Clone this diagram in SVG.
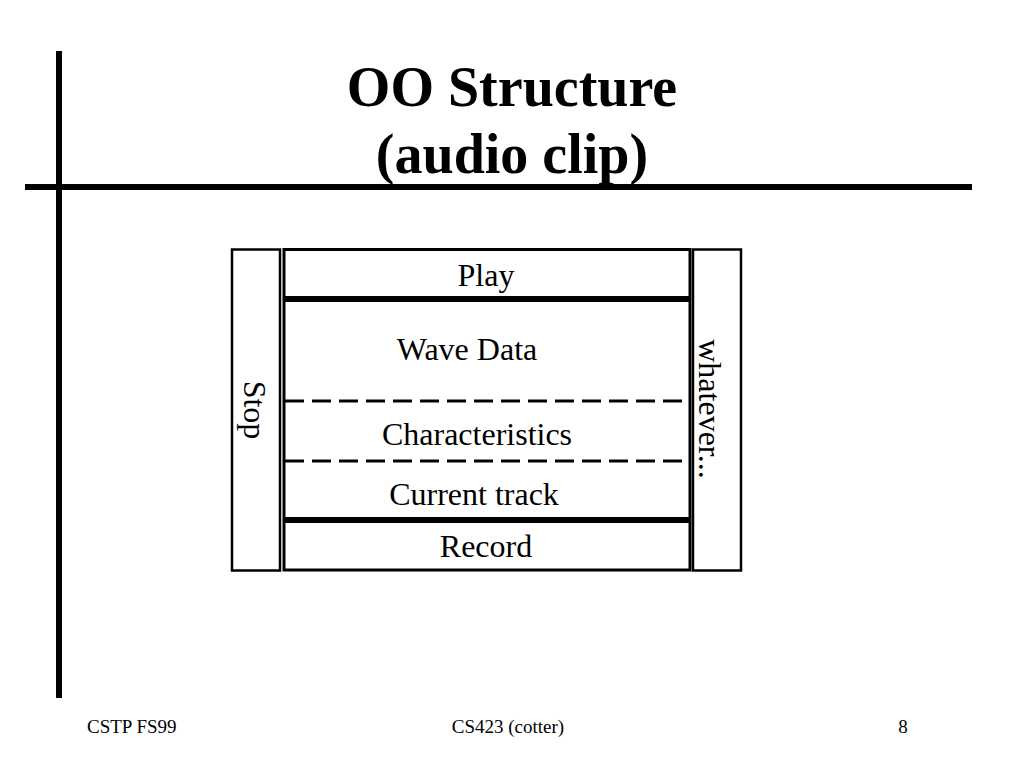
<svg xmlns="http://www.w3.org/2000/svg" width="1024" height="768" viewBox="0 0 1024 768">
  <style>
    .t { font-family: "Liberation Serif", "Times New Roman", serif; fill: #000; }
    .title { font-size: 56px; font-weight: bold; text-anchor: middle; }
    .lbl { font-size: 32px; text-anchor: middle; }
    .foot { font-size: 19px; }
    .box { fill: #fff; stroke: #000; }
    .dash { stroke: #000; stroke-width: 3; stroke-dasharray: 19 8; fill: none; }
    .rule { stroke: #000; stroke-width: 6; }
  </style>
  <rect width="1024" height="768" fill="#fff"/>
  <g id="frame">
    <line class="rule" x1="59" y1="51" x2="59" y2="698"/>
    <line class="rule" x1="25" y1="187" x2="972" y2="187"/>
  </g>
  <g id="title">
    <text class="t title" x="512" y="106">OO Structure</text>
    <text class="t title" x="512" y="173">(audio clip)</text>
  </g>
  <g id="stop">
    <rect class="box" x="232" y="249.5" width="48" height="321" stroke-width="2.5"/>
    <text class="t lbl" transform="translate(244,410) rotate(90)" x="0" y="0">Stop</text>
  </g>
  <g id="whatever">
    <rect class="box" x="693" y="249.5" width="48" height="321" stroke-width="2.5"/>
    <text class="t lbl" transform="translate(699,409) rotate(90)" x="0" y="0">whatever...</text>
  </g>
  <g id="play">
    <rect class="box" x="284" y="249.5" width="406" height="48" stroke-width="3"/>
    <text class="t lbl" x="486" y="286">Play</text>
  </g>
  <g id="data">
    <rect class="box" x="284" y="300.5" width="406" height="218" stroke-width="3"/>
    <text class="t lbl" x="467" y="360">Wave Data</text>
    <text class="t lbl" x="477" y="445">Characteristics</text>
    <text class="t lbl" x="474" y="505">Current track</text>
  </g>
  <g id="connectors">
    <line class="dash" x1="285" y1="401" x2="689" y2="401"/>
    <line class="dash" x1="285" y1="461" x2="689" y2="461"/>
  </g>
  <g id="record">
    <rect class="box" x="284" y="521.5" width="406" height="48.5" stroke-width="3"/>
    <text class="t lbl" x="486" y="557">Record</text>
  </g>
  <g id="footer">
    <text class="t foot" x="87" y="733">CSTP FS99</text>
    <text class="t foot" x="508" y="733" text-anchor="middle">CS423 (cotter)</text>
    <text class="t foot" x="903" y="733" text-anchor="middle">8</text>
  </g>
</svg>
